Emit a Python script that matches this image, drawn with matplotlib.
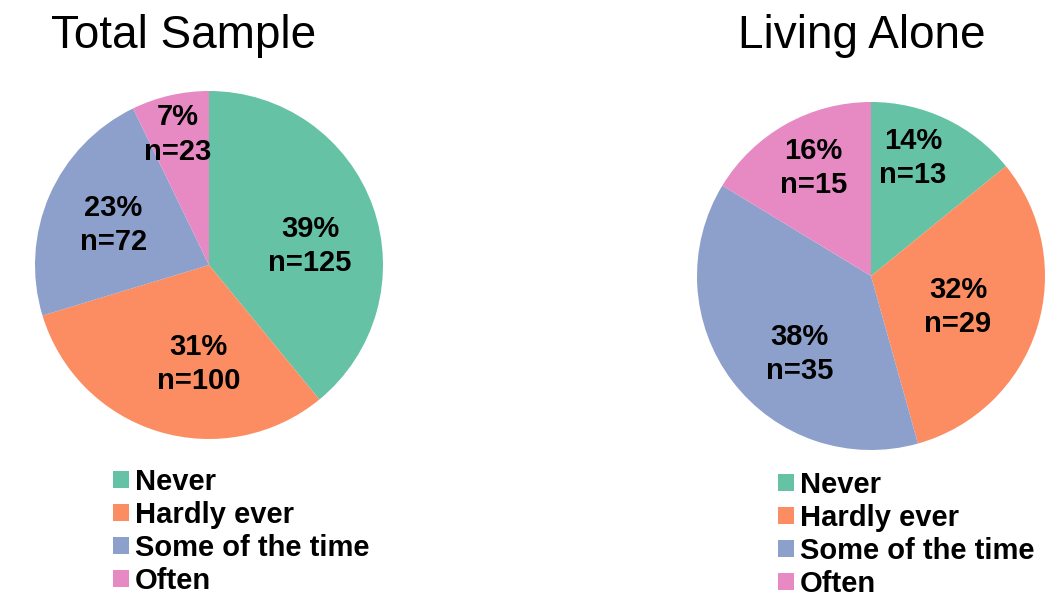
import matplotlib
matplotlib.use("Agg")
import matplotlib.pyplot as plt
from matplotlib.patches import Patch

plt.rcParams['font.family'] = ['Liberation Sans', 'DejaVu Sans']

# Survey response categories and colours
categories = ["Never", "Hardly ever", "Some of the time", "Often"]
colors = ["#66c2a5", "#fc8d62", "#8da0cb", "#e78ac3"]

# Counts per group
total_counts = [125, 100, 72, 23]
total_pcts = [39, 31, 23, 7]
alone_counts = [13, 29, 35, 15]
alone_pcts = [14, 32, 38, 16]

# Label placement inside each pie (in units of the pie radius)
total_label_pos = [(0.58, 0.11), (-0.06, -0.57), (-0.55, 0.23), (-0.18, 0.75)]
alone_label_pos = [(0.24, 0.68), (0.50, -0.18), (-0.41, -0.45), (-0.33, 0.62)]

W, H = 1050, 599
fig = plt.figure(figsize=(W / 100, H / 100), dpi=100)


def px_axes(x0, y0, x1, y1):
    return fig.add_axes([x0 / W, (H - y1) / H, (x1 - x0) / W, (y1 - y0) / H])


def draw_pie(ax, counts, pcts, label_pos, title, title_x):
    ax.pie(counts, colors=colors, startangle=90, counterclock=False,
           radius=1.0, wedgeprops=dict(linewidth=0))
    ax.set_xlim(-1, 1)
    ax.set_ylim(-1, 1)
    ax.set_aspect('equal')
    ax.axis('off')
    for (x, y), p, n in zip(label_pos, pcts, counts):
        ax.text(x, y, f"{p}%\nn={n}", ha='center', va='center',
                fontsize=21, fontweight='bold', linespacing=1.28)
    fig.text(title_x / W, 1 - 48 / H, title, ha='center', va='baseline',
             fontsize=33)


ax1 = px_axes(35, 91, 383, 439)
draw_pie(ax1, total_counts, total_pcts, total_label_pos, "Total Sample", 184)

ax2 = px_axes(697, 102, 1045, 450)
draw_pie(ax2, alone_counts, alone_pcts, alone_label_pos, "Living Alone", 862)

handles = [Patch(facecolor=c, edgecolor='none') for c in colors]
leg_kw = dict(loc='upper left', frameon=False,
              prop=dict(weight='bold', size=21),
              handlelength=0.54, handleheight=0.54, handletextpad=0.22,
              labelspacing=0.17, borderpad=0, borderaxespad=0)
fig.legend(handles, categories, bbox_to_anchor=(113 / W, 1 - 468 / H), **leg_kw)
fig.legend(handles, categories, bbox_to_anchor=(778 / W, 1 - 471 / H), **leg_kw)

fig.savefig("out.png", dpi=100, facecolor='white')
